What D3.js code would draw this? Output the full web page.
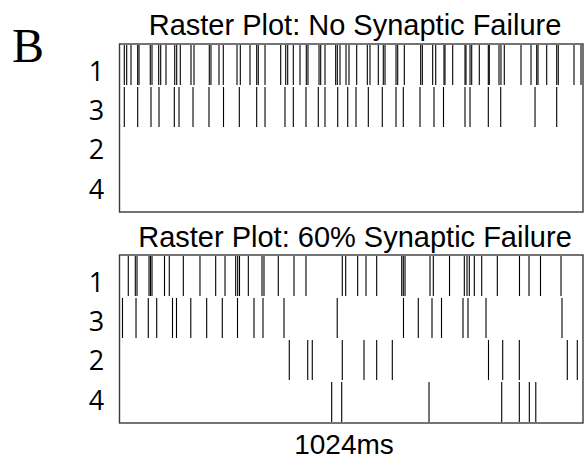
<!DOCTYPE html>
<html>
<head>
<meta charset="utf-8">
<script src="https://cdn.jsdelivr.net/npm/d3@7"></script>
<style>
  html, body { margin: 0; padding: 0; background: #fff; }
  svg { display: block; }
</style>
</head>
<body>
<svg id="chart" width="584" height="461"></svg>
<script>
// ---------------- data ----------------
const panelLetter = "B";
const durationMs = 1024;
const xAxisLabel = "1024ms";
const rowLabels = ["1", "3", "2", "4"];
const titleNoFailure = "Raster Plot: No Synaptic Failure";
const title60Failure = "Raster Plot: 60% Synaptic Failure";

// spike times (ms) — no synaptic failure
const noFail_n1 = [10.6, 15.9, 25.4, 40.2, 43.1, 68.0, 71.8, 86.6, 91.0, 102.7, 122.0, 126.4, 134.3,
  158.0, 164.6, 198.4, 202.1, 219.8, 229.3, 259.6, 266.9, 288.3, 303.1, 306.6, 321.5, 356.1, 367.2,
  371.6, 384.0, 398.8, 412.7, 416.4, 440.8, 444.5, 454.0, 477.6, 481.2, 487.1, 500.4, 507.0, 524.0,
  547.5, 553.4, 571.8, 582.8, 586.6, 610.9, 614.6, 629.2, 665.4, 669.0, 691.9, 698.6, 716.9, 719.1,
  736.1, 763.3, 765.5, 774.4, 778.1, 794.9, 814.8, 817.0, 838.4, 842.8, 850.1, 887.0, 909.1, 921.7,
  924.6, 943.8, 965.9, 969.4, 1004.1, 1019.6];
const noFail_n3 = [10.6, 40.2, 69.6, 87.3, 121.1, 131.5, 162.4, 197.7, 229.8, 264.7, 303.1, 321.5,
  365.6, 384.0, 412.0, 439.2, 454.0, 482.1, 504.2, 522.5, 549.7, 580.6, 610.9, 627.0, 663.9, 694.8,
  715.8, 763.3, 774.4, 814.8, 842.2, 918.0, 965.9];
const noFail_n2 = [];
const noFail_n4 = [];

// spike times (ms) — 60% synaptic failure
const fail60_n1 = [19.4, 34.9, 38.7, 65.2, 68.5, 71.8, 99.4, 110.0, 141.0, 177.8, 212.5, 233.1, 256.7,
  261.1, 265.1, 284.6, 314.8, 319.2, 350.8, 385.5, 412.0, 492.2, 499.7, 526.2, 544.6, 568.2, 623.5,
  627.0, 630.8, 686.0, 693.3, 729.1, 761.8, 767.7, 772.8, 783.9, 800.2, 834.7, 883.7, 904.7, 930.1, 975.4];
const fail60_n3 = [6.6, 36.5, 63.6, 82.2, 117.1, 125.9, 157.5, 192.6, 227.1, 260.7, 297.1, 317.0, 363.4,
  481.0, 627.4, 660.1, 690.4, 711.4, 758.9, 769.9, 809.7, 977.6];
const fail60_n2 = [375.1, 415.8, 425.9, 492.2, 540.2, 568.2, 602.7, 815.2, 846.6, 883.3, 989.3, 1011.4];
const fail60_n4 = [468.8, 490.9, 683.8, 844.4, 883.3, 905.4, 919.7];

// ---------------- drawing ----------------
const svg = d3.select("#chart");
const boxLeft = 119.5, boxRight = 583, boxH = 168;

const x = d3.scaleLinear().domain([0, durationMs]).range([boxLeft, boxRight]);

const panels = [
  { title: titleNoFailure, top: 44, titleY: 35, rows: { "1": noFail_n1, "3": noFail_n3, "2": noFail_n2, "4": noFail_n4 } },
  { title: title60Failure, top: 255, titleY: 246.5, rows: { "1": fail60_n1, "3": fail60_n3, "2": fail60_n2, "4": fail60_n4 } }
];

svg.append("text")
  .attr("x", 12).attr("y", 61.5)
  .attr("font-family", "'Liberation Serif', 'Times New Roman', serif")
  .attr("font-size", 48)
  .attr("fill", "#000")
  .text(panelLetter);

panels.forEach(p => {
  const y = d3.scaleBand().domain(rowLabels).range([p.top, p.top + boxH]).padding(0);
  const yLab = d3.scalePoint().domain(rowLabels).range([p.top + 27, p.top + 145]);
  const g = svg.append("g");

  // title
  g.append("text")
    .attr("x", 355).attr("y", p.titleY)
    .attr("text-anchor", "middle")
    .attr("font-family", "'Liberation Sans', Arial, sans-serif")
    .attr("font-size", 29)
    .attr("fill", "#000")
    .text(p.title);

  // row labels
  g.selectAll("text.rowlab")
    .data(rowLabels)
    .join("text")
    .attr("class", "rowlab")
    .attr("x", 96.5)
    .attr("y", d => yLab(d))
    .attr("dy", "0.36em")
    .attr("text-anchor", "middle")
    .attr("font-family", "'Open Sans', 'Noto Sans', sans-serif")
    .attr("font-size", 27)
    .attr("fill", "#000")
    .text(d => d);

  // spikes
  const spikes = [];
  rowLabels.forEach(r => p.rows[r].forEach(t => spikes.push({ r, t })));
  g.selectAll("line.spike")
    .data(spikes)
    .join("line")
    .attr("class", "spike")
    .attr("x1", d => x(d.t)).attr("x2", d => x(d.t))
    .attr("y1", d => y(d.r) + 1)
    .attr("y2", d => y(d.r) + y.bandwidth() - 1)
    .attr("stroke", "#000")
    .attr("stroke-width", 1.1);

  // frame
  g.append("rect")
    .attr("x", boxLeft).attr("y", p.top)
    .attr("width", boxRight - boxLeft).attr("height", boxH)
    .attr("fill", "none")
    .attr("stroke", "#3a3a3a")
    .attr("stroke-width", 1.4);
});

svg.append("text")
  .attr("x", 344).attr("y", 454)
  .attr("text-anchor", "middle")
  .attr("font-family", "'Liberation Sans', Arial, sans-serif")
  .attr("font-size", 28)
  .attr("fill", "#000")
  .text(xAxisLabel);
</script>
</body>
</html>
